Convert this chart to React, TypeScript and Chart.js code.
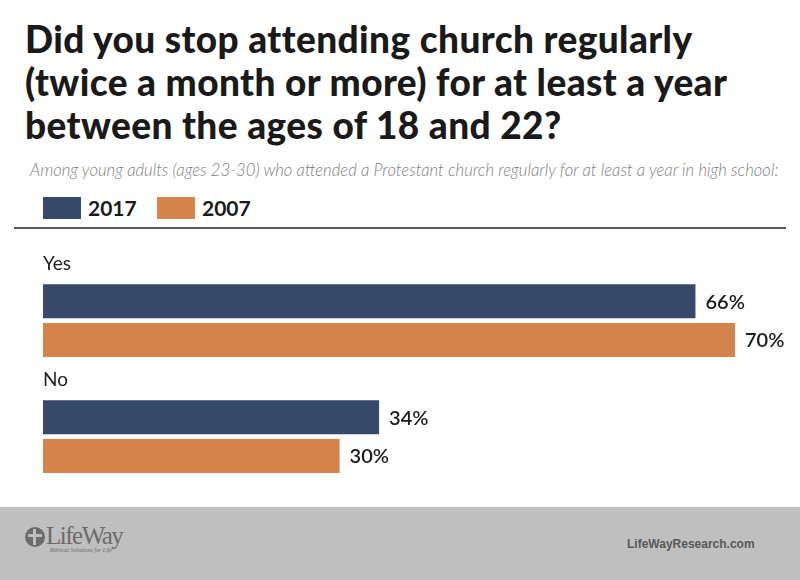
import React, { useEffect, useRef } from "react";
import { Chart, registerables } from "chart.js";

Chart.register(...registerables);

const categories = ["Yes", "No"];
const seriesNames = ["2017", "2007"];
const values2017 = [66, 34];
const values2007 = [70, 30];
const seriesColors = ["#36496a", "#d4834a"];
const titleLines = [
  "Did you stop attending church regularly",
  "(twice a month or more) for at least a year",
  "between the ages of 18 and 22?",
];
const subtitleText =
  "Among young adults (ages 23-30) who attended a Protestant church regularly for at least a year in high school:";
const footerUrl = "LifeWayResearch.com";
const logoName = "LifeWay";
const logoTagline = "Biblical Solutions for Life";

const labelPlugin = {
  id: "labelPlugin",
  afterDatasetsDraw(chart: any) {
    const ctx = chart.ctx;
    const yScale = chart.scales.y;
    const area = chart.chartArea;
    ctx.save();
    ctx.font = "400 19px Lato";
    ctx.fillStyle = "#222222";
    ctx.textAlign = "left";
    ctx.textBaseline = "alphabetic";
    categories.forEach((c, i) => {
      const y = yScale.getPixelForValue(i);
      ctx.fillText(c, area.left, y - 51);
    });
    ctx.font = "600 20px Lato";
    ctx.fillStyle = "#1c1c1c";
    ctx.textBaseline = "middle";
    chart.data.datasets.forEach((ds: any, di: number) => {
      const meta = chart.getDatasetMeta(di);
      meta.data.forEach((el: any, i: number) => {
        ctx.fillText(ds.data[i] + "%", el.x + 10, el.y + 1);
      });
    });
    ctx.restore();
  },
};

function BarChart() {
  const ref = useRef<HTMLCanvasElement | null>(null);
  useEffect(() => {
    if (!ref.current) return;
    const chart = new Chart(ref.current, {
      type: "bar",
      data: {
        labels: categories,
        datasets: [
          {
            label: seriesNames[0],
            data: values2017,
            backgroundColor: seriesColors[0],
            categoryPercentage: 0.667,
            barPercentage: 0.879,
          },
          {
            label: seriesNames[1],
            data: values2007,
            backgroundColor: seriesColors[1],
            categoryPercentage: 0.667,
            barPercentage: 0.879,
          },
        ],
      },
      options: {
        indexAxis: "y",
        animation: false,
        responsive: true,
        maintainAspectRatio: false,
        layout: { padding: { left: 43, right: 14, top: 22.7, bottom: 5.4 } },
        plugins: {
          legend: { display: false },
          title: { display: false },
          tooltip: { enabled: false },
        },
        scales: {
          x: { display: false, min: 0, max: 75.16 },
          y: { display: false },
        },
      },
      plugins: [labelPlugin],
    } as any);
    return () => chart.destroy();
  }, []);
  return <canvas ref={ref} />;
}

export default function App() {
  return (
    <div
      style={{
        position: "absolute",
        left: 0,
        top: 0,
        width: 800,
        height: 580,
        background: "#ffffff",
        overflow: "hidden",
        fontFamily: "Lato, sans-serif",
      }}
    >
      <div
        style={{
          position: "absolute",
          left: 25,
          top: 17,
          fontSize: 37,
          lineHeight: "43px",
          fontWeight: 900,
          letterSpacing: 0.4,
          color: "#1a1a1a",
          whiteSpace: "nowrap",
        }}
      >
        {titleLines.map((t, i) => (
          <div key={i}>{t}</div>
        ))}
      </div>
      <div
        style={{
          position: "absolute",
          left: 30,
          top: 160,
          fontSize: 16.7,
          lineHeight: "20px",
          fontStyle: "italic",
          fontWeight: 300,
          color: "#7e7e7e",
          whiteSpace: "nowrap",
        }}
      >
        {subtitleText}
      </div>
      {seriesNames.map((n, i) => (
        <div
          key={n}
          style={{
            position: "absolute",
            left: i === 0 ? 43 : 157,
            top: 197,
            display: "flex",
            alignItems: "center",
          }}
        >
          <div style={{ width: 38, height: 22, background: seriesColors[i] }} />
          <div
            style={{
              marginLeft: 7,
              fontSize: 21,
              fontWeight: 700,
              color: "#1a1a1a",
              lineHeight: "22px",
            }}
          >
            {n}
          </div>
        </div>
      ))}
      <div
        style={{
          position: "absolute",
          left: 14,
          top: 227,
          width: 772,
          height: 2,
          background: "#5a5a5a",
        }}
      />
      <div style={{ position: "absolute", left: 0, top: 240, width: 800, height: 260 }}>
        <BarChart />
      </div>
      <div
        style={{
          position: "absolute",
          left: 0,
          top: 507,
          width: 800,
          height: 73,
          background: "#bfbfbf",
        }}
      >
        <div
          style={{
            position: "absolute",
            left: 25,
            top: 20,
            width: 20,
            height: 20,
            borderRadius: 10,
            background: "#6b6b6b",
          }}
        >
          <div style={{ position: "absolute", left: 8, top: 2, width: 3, height: 16, background: "#bfbfbf" }} />
          <div style={{ position: "absolute", left: 3, top: 7, width: 14, height: 3, background: "#bfbfbf" }} />
        </div>
        <div
          style={{
            position: "absolute",
            left: 46,
            top: 14,
            fontFamily: "'Liberation Serif', serif",
            fontSize: 25,
            lineHeight: "30px",
            letterSpacing: -1.5,
            color: "#6b6b6b",
          }}
        >
          {logoName}
        </div>
        <div
          style={{
            position: "absolute",
            left: 50,
            top: 39,
            fontFamily: "'Liberation Serif', serif",
            fontStyle: "italic",
            fontSize: 6,
            lineHeight: "8px",
            color: "#6b6b6b",
            whiteSpace: "nowrap",
          }}
        >
          {logoTagline}
        </div>
        <div
          style={{
            position: "absolute",
            left: 627,
            top: 29,
            fontFamily: "'Liberation Sans', Arial, sans-serif",
            fontSize: 12,
            lineHeight: "16px",
            fontWeight: 700,
            color: "#585858",
            whiteSpace: "nowrap",
          }}
        >
          {footerUrl}
        </div>
      </div>
    </div>
  );
}
